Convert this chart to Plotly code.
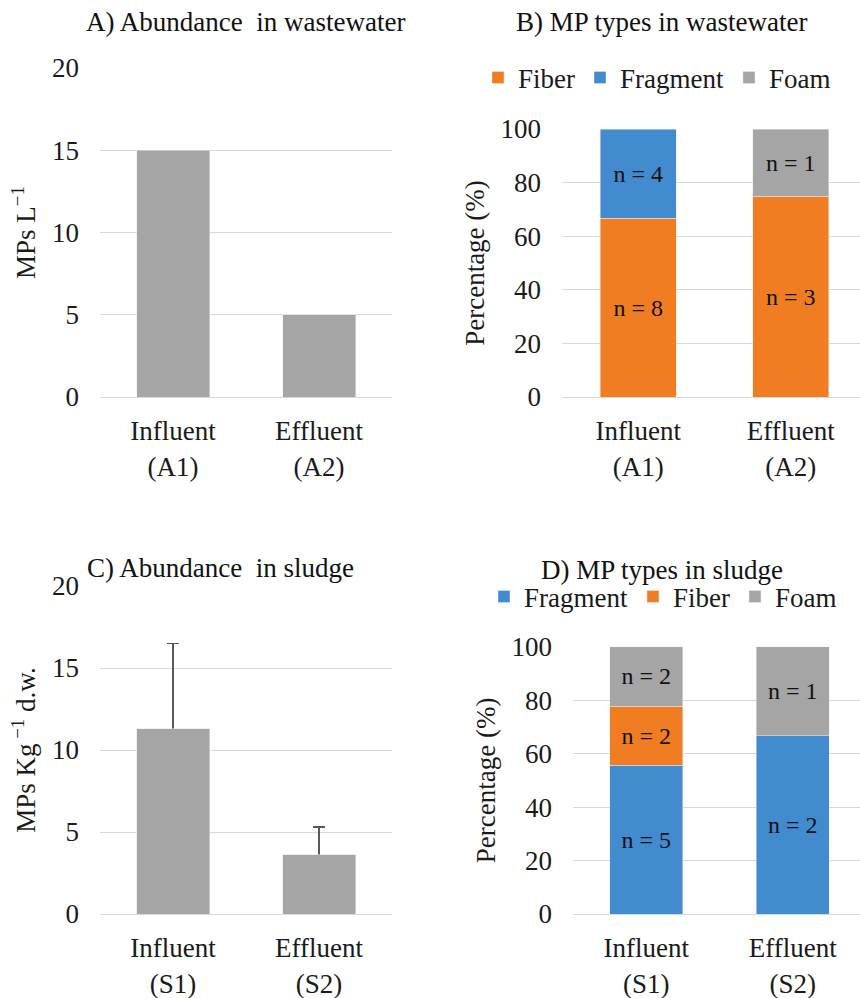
import plotly.graph_objects as go

# ---------------- data ----------------
ww_categories = ["Influent<br>(A1)", "Effluent<br>(A2)"]
sl_categories = ["Influent<br>(S1)", "Effluent<br>(S2)"]

ww_abundance = [15, 5]            # MPs L^-1
sl_abundance = [11.3, 3.6]        # MPs Kg^-1 d.w.
sl_abundance_err = [5.2, 1.7]

ww_fiber_n = [8, 3]
ww_fragment_n = [4, 0]
ww_foam_n = [0, 1]
ww_fiber_pct = [66.7, 75.0]
ww_fragment_pct = [33.3, 0.0]
ww_foam_pct = [0.0, 25.0]

sl_fragment_n = [5, 2]
sl_fiber_n = [2, 0]
sl_foam_n = [2, 1]
sl_fragment_pct = [55.6, 66.7]
sl_fiber_pct = [22.2, 0.0]
sl_foam_pct = [22.2, 33.3]

# ---------------- style ----------------
FONT = "'Liberation Serif', Tinos, 'Times New Roman', 'DejaVu Serif', serif"
TXT = "#1a1a1a"
GRID = "#D9D9D9"
GRAY = "#A5A5A5"
ORANGE = "#F07D22"
BLUE = "#428BCF"
FS = 27
W, H = 860, 998


def px_x(p):
    return p / W


def px_y(p):
    return 1 - p / H


def nonzero(vals):
    # an absent segment (0 %) is not drawn at all
    return [v if v else None for v in vals]


def ntext(counts):
    return [f"n = {c}" if c else None for c in counts]


fig = go.Figure()

# A) abundance in wastewater
fig.add_trace(go.Bar(x=ww_categories, y=ww_abundance, marker_color=GRAY,
                     showlegend=False, xaxis="x", yaxis="y"))

# B) MP types in wastewater
for name, pct, n, col in [("Fiber", ww_fiber_pct, ww_fiber_n, ORANGE),
                          ("Fragment", ww_fragment_pct, ww_fragment_n, BLUE),
                          ("Foam", ww_foam_pct, ww_foam_n, GRAY)]:
    fig.add_trace(go.Bar(x=ww_categories, y=nonzero(pct), name=name,
                         marker_color=col, text=ntext(n), textposition="inside",
                         insidetextanchor="middle", textangle=0,
                         textfont=dict(family=FONT, size=24, color="#111111"),
                         xaxis="x2", yaxis="y2", legend="legend"))

# C) abundance in sludge: error bars (plus direction) on the base subplot,
# the bars themselves on an overlaying copy of the axes so the bar body
# hides the lower end of the error bar
fig.add_trace(go.Bar(x=sl_categories, y=sl_abundance, marker_color=GRAY,
                     showlegend=False, xaxis="x3", yaxis="y3",
                     error_y=dict(type="data", symmetric=False,
                                  array=sl_abundance_err,
                                  arrayminus=[0.5, 0.5],
                                  color="#595959", thickness=1.5, width=6)))
fig.add_trace(go.Bar(x=sl_categories, y=sl_abundance, marker_color=GRAY,
                     showlegend=False, xaxis="x5", yaxis="y5"))

# D) MP types in sludge
for name, pct, n, col in [("Fragment", sl_fragment_pct, sl_fragment_n, BLUE),
                          ("Fiber", sl_fiber_pct, sl_fiber_n, ORANGE),
                          ("Foam", sl_foam_pct, sl_foam_n, GRAY)]:
    fig.add_trace(go.Bar(x=sl_categories, y=nonzero(pct), name=name,
                         marker_color=col, text=ntext(n), textposition="inside",
                         insidetextanchor="middle", textangle=0,
                         textfont=dict(family=FONT, size=24, color="#111111"),
                         xaxis="x4", yaxis="y4", legend="legend2"))

tickfont = dict(family=FONT, size=FS, color=TXT)


def xax(domain, rng, anchor):
    return dict(domain=domain, range=rng, anchor=anchor, type="category",
                showgrid=False, showline=True, linecolor=GRID, linewidth=1,
                ticks="", tickfont=tickfont, ticklabelstandoff=10,
                automargin=False, fixedrange=True)


def yax(domain, rng, dtick, anchor, title, standoff):
    return dict(domain=domain, range=rng, dtick=dtick, anchor=anchor,
                showgrid=True, gridcolor=GRID, gridwidth=1,
                zeroline=False, showline=False, ticks="",
                tickfont=tickfont, ticklabelstandoff=20, automargin=False,
                fixedrange=True,
                title=dict(text=title, font=dict(family=FONT, size=FS, color=TXT),
                           standoff=standoff))


yA = [px_y(397), px_y(68)]
yB = [px_y(397), px_y(129)]
yC = [px_y(914), px_y(586)]
yD = [px_y(914), px_y(646.7)]
xAC = [px_x(100), px_x(392)]

fig.update_layout(
    width=W, height=H,
    margin=dict(l=0, r=0, t=0, b=0),
    paper_bgcolor="white", plot_bgcolor="white",
    barmode="stack", bargap=0.5,
    font=dict(family=FONT, size=FS, color=TXT),
    xaxis=xax(xAC, [-0.5, 1.5], "y"),
    yaxis=yax(yA, [0, 20], 5, "x", "MPs L<sup>−1</sup>", 8),
    xaxis2=xax([px_x(562), 1.0], [-0.5, 1.454], "y2"),
    yaxis2=yax(yB, [0, 100], 20, "x2", "Percentage (%)", 8),
    xaxis3=xax(xAC, [-0.5, 1.5], "y3"),
    yaxis3=yax(yC, [0, 20], 5, "x3", "MPs Kg<sup> −1</sup> d.w.", 8),
    xaxis4=xax([px_x(573), 1.0], [-0.5, 1.459], "y4"),
    yaxis4=yax(yD, [0, 100], 20, "x4", "Percentage (%)", 8),
    xaxis5=dict(domain=xAC, range=[-0.5, 1.5], type="category", overlaying="x3",
                anchor="y5", visible=False, fixedrange=True),
    yaxis5=dict(domain=yC, range=[0, 20], overlaying="y3", anchor="x5",
                visible=False, fixedrange=True),
    legend=dict(orientation="h", x=px_x(478), y=px_y(78), xanchor="left",
                yanchor="middle", traceorder="normal",
                font=dict(family=FONT, size=FS, color=TXT),
                bgcolor="rgba(0,0,0,0)"),
    legend2=dict(orientation="h", x=px_x(484), y=px_y(597), xanchor="left",
                 yanchor="middle", traceorder="normal",
                 font=dict(family=FONT, size=FS, color=TXT),
                 bgcolor="rgba(0,0,0,0)"),
)

titles = [("A) Abundance  in wastewater", 245, 22),
          ("B) MP types in wastewater", 661, 22),
          ("C) Abundance  in sludge", 221, 568),
          ("D) MP types in sludge", 662, 570)]
for t, x, y in titles:
    fig.add_annotation(text=t, x=px_x(x), y=px_y(y), xref="paper", yref="paper",
                       xanchor="center", yanchor="middle", showarrow=False,
                       font=dict(family=FONT, size=FS, color="#111111"))

fig.write_html("out.html", config={"displayModeBar": False},
               post_script="document.body.style.margin='0';document.body.style.overflow='hidden';")
